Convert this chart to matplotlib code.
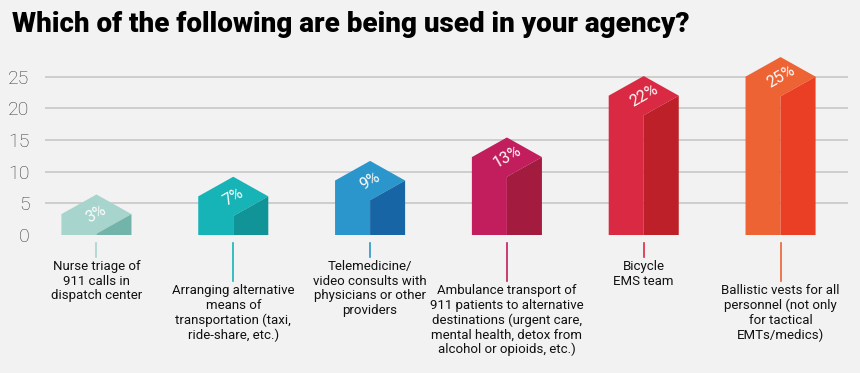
import matplotlib
matplotlib.use("Agg")
import matplotlib.pyplot as plt
from matplotlib.patches import Polygon

# data
categories = [
    "Nurse triage of\n911 calls in\ndispatch center",
    "Arranging alternative\nmeans of\ntransportation (taxi,\nride-share, etc.)",
    "Telemedicine/\nvideo consults with\nphysicians or other\nproviders",
    "Ambulance transport of\n911 patients to alternative\ndestinations (urgent care,\nmental health, detox from\nalcohol or opioids, etc.)",
    "Bicycle\nEMS team",
    "Ballistic vests for all\npersonnel (not only\nfor tactical\nEMTs/medics)",
]
bar_heights = [3.3, 6.1, 8.6, 12.3, 22.0, 25.0]
pct_labels = ["3%", "7%", "9%", "13%", "22%", "25%"]
front_colors = ["#a8d4ce", "#16b4b7", "#2a96cb", "#c21d5d", "#da2943", "#ee6334"]
side_colors = ["#72b4a9", "#109497", "#1865a5", "#a41b40", "#bd2029", "#eb3f25"]
y_ticks = [0, 5, 10, 15, 20, 25]

BG = "#f2f2f2"
plt.rcParams["font.family"] = ["Roboto", "DejaVu Sans"]

fig = plt.figure(figsize=(8.6, 3.73), dpi=100, facecolor=BG)
ax = fig.add_axes([45 / 860, 138 / 373, 803 / 860, 190 / 373])
ax.set_facecolor(BG)

half_w = 0.256   # half bar width in x units
roof = 3.1       # half height of the top rhombus

for i, v in enumerate(bar_heights):
    low = max(v - roof, 0)
    front = Polygon([(i - half_w, 0), (i - half_w, v), (i, v + roof),
                     (i + half_w, v), (i, low), (i, 0)],
                    closed=True, facecolor=front_colors[i], edgecolor="none", zorder=3)
    side = Polygon([(i, 0), (i, low), (i + half_w, v), (i + half_w, 0)],
                   closed=True, facecolor=side_colors[i], edgecolor="none", zorder=3)
    ax.add_patch(front)
    ax.add_patch(side)
    ax.text(i, v, pct_labels[i], rotation=30, ha="center", va="center",
            color="#fbfbfb", fontsize=11.5, fontweight="normal", zorder=4)

    # leader line + category label below the bar
    long = i % 2 == 1
    y_end = -7.2 if long else -3.4
    ax.plot([i, i], [-1.2, y_end], color=front_colors[i], lw=1.2,
            clip_on=False, zorder=3)
    ax.text(i, y_end - 0.6, categories[i], ha="center", va="top",
            fontsize=9.5, color="#111111", linespacing=1.15)

ax.set_xlim(-0.376, 5.493)
ax.set_ylim(0, 30)
ax.set_xticks([])
ax.set_yticks(y_ticks)
ax.set_yticklabels([str(t) for t in y_ticks], fontsize=14, fontweight="light",
                   color="#3a3a3a")
ax.tick_params(axis="y", length=0, pad=11)
ax.grid(axis="y", color="#c4c4c4", lw=1.1, zorder=0)
ax.yaxis.get_gridlines()[0].set_visible(False)
ax.set_axisbelow(True)
for s in ax.spines.values():
    s.set_visible(False)

fig.text(12 / 860, 1 - 32 / 373, "Which of the following are being used in your agency?",
         fontsize=20, fontweight="black", color="black", va="baseline", ha="left")

fig.savefig("out.png", dpi=100, facecolor=BG)
